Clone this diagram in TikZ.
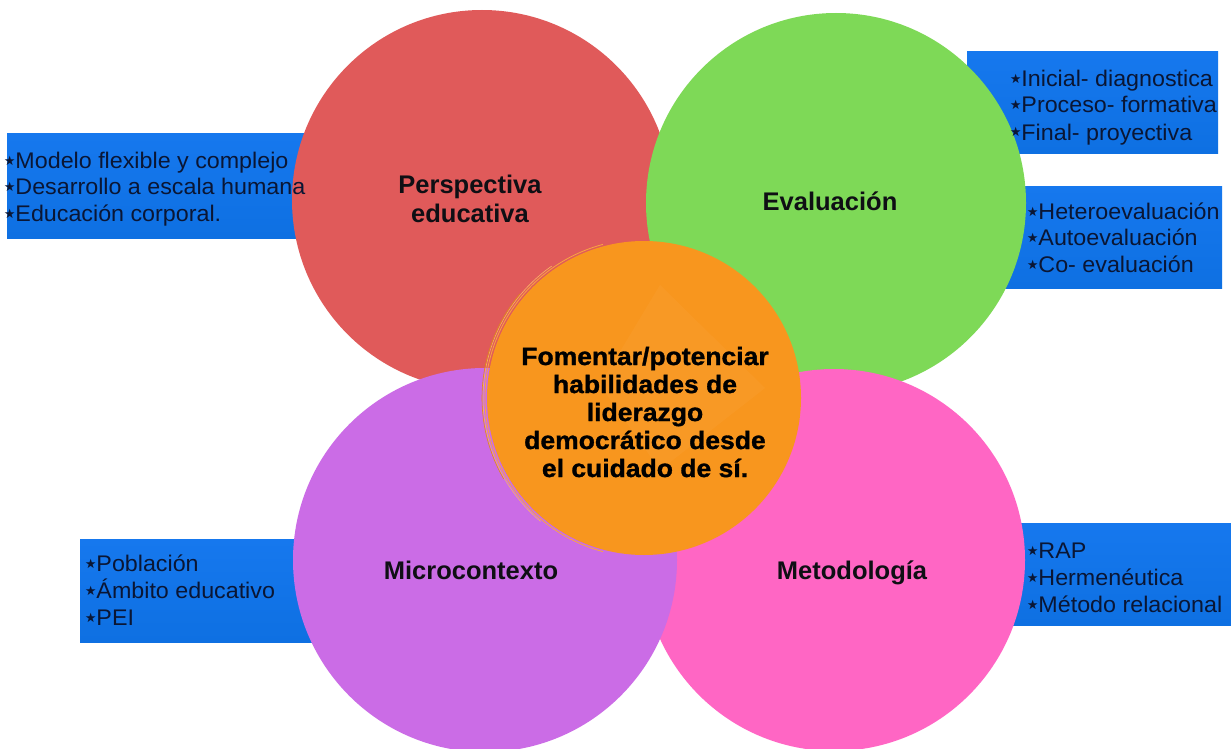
\documentclass[tikz,border=0pt]{standalone}
\usepackage{fontspec}
\usepackage{graphicx}
\setmainfont{Liberation Sans}
\newfontfamily\ctrfont{Liberation Sans}[FakeStretch=1.06, FakeBold=1.2]
\newfontfamily\listfont{Liberation Sans}[FakeStretch=1.03]
\newfontfamily\symfont{DejaVu Sans}
\definecolor{cred}{RGB}{224,90,90}
\definecolor{cgreen}{RGB}{126,217,87}
\definecolor{cpurple}{RGB}{203,108,230}
\definecolor{cpink}{RGB}{255,102,196}
\definecolor{corange}{RGB}{248,150,30}
\definecolor{boxtop}{RGB}{22,120,238}
\definecolor{boxbot}{RGB}{14,112,226}
\definecolor{itemtext}{RGB}{10,22,52}
\definecolor{titletext}{RGB}{15,15,20}
\newcommand\bul{\hspace{-2.5pt}\raisebox{-1pt}{\symfont\fontsize{26}{26}\selectfont ⋆}\hspace{-2.5pt}}
\begin{document}
\begin{tikzpicture}[x=1pt,y=-1pt,
  bluebox/.style={top color=boxtop, bottom color=boxbot, draw=none},
  disc/.style={circle, minimum size=#1, inner sep=0pt, draw=none},
  item/.style={anchor=base west, inner sep=0pt, text=itemtext, font=\listfont\fontsize{22.6}{26}\selectfont},
  ttl/.style={anchor=base, inner sep=0pt, text=titletext, font=\bfseries\fontsize{25.5}{28}\selectfont},
  ctr/.style={anchor=base, inner sep=0pt, text=black, font=\ctrfont\bfseries\fontsize{25}{28}\selectfont}]
\useasboundingbox (0,0) rectangle (1231,749);
\fill[white] (0,0) rectangle (1231,749);
% blue boxes
\fill[bluebox] (7,134) rectangle (320,238);
\fill[bluebox] (967,52) rectangle (1218,153);
\fill[bluebox] (990,186) rectangle (1222,288);
\fill[bluebox] (80,539) rectangle (330,642);
\fill[bluebox] (1000,523) rectangle (1231,625);
% circles
\node[disc=380pt, fill=cred] (red) at (482,200) {};
\node[disc=380pt, fill=cgreen] (green) at (836,203) {};
\node[disc=382pt, fill=cpink] (pink) at (834,560) {};
\node[disc=384pt, fill=cpurple] (purple) at (485,560) {};
\node[disc=314pt, fill=corange] (orange) at (644,398) {};
% brush strokes on the orange circle
\draw[corange!85!white, line width=0.8pt] (orange.center) ++(105:159) arc[start angle=105, end angle=255, radius=159];
\draw[corange!70!white, line width=0.6pt] (orange.center) ++(130:161) arc[start angle=130, end angle=235, radius=161];
\draw[corange!90!black, line width=0.6pt] (orange.center) ++(150:162) arc[start angle=150, end angle=220, radius=162];
\fill[white, opacity=0.035] (660,285) -- (765,388) -- (660,470) -- (600,385) -- cycle;
% titles
\node[ttl] (t1a) at (470,193) {Perspectiva};
\node[ttl] (t1b) at (470,222) {educativa};
\node[ttl] (t2) at (830,210) {Evaluación};
\node[ttl] (t3) at (471,579) {Microcontexto};
\node[ttl] (t4) at (852,579) {Metodología};
% center text
\node[ctr] (c1) at (645,365) {Fomentar/potenciar};
\node[ctr] (c2) at (645,393) {habilidades de};
\node[ctr] (c3) at (645,421) {liderazgo};
\node[ctr] (c4) at (645,449) {democrático desde};
\node[ctr] (c5) at (645,477) {el cuidado de sí.};
% lists
\node[item] (a1) at (4,168) {\bul Modelo flexible y complejo};
\node[item] (a2) at (4,194.5) {\bul Desarrollo a escala humana};
\node[item] (a3) at (4,221) {\bul Educación corporal.};
\node[item] (b1) at (1010,87) {\bul Inicial- diagnostica};
\node[item] (b2) at (1010,113) {\bul Proceso- formativa};
\node[item] (b3) at (1010,140) {\bul Final- proyectiva};
\node[item] (d1) at (1027,219) {\bul Heteroevaluación};
\node[item] (d2) at (1027,245.5) {\bul Autoevaluación};
\node[item] (d3) at (1027,272) {\bul Co- evaluación};
\node[item] (e1) at (85,571) {\bul Población};
\node[item] (e2) at (85,598) {\bul Ámbito educativo};
\node[item] (e3) at (85,625) {\bul PEI};
\node[item] (f1) at (1027,558) {\bul RAP};
\node[item] (f2) at (1027,585) {\bul Hermenéutica};
\node[item] (f3) at (1027,612) {\bul Método relacional};
\end{tikzpicture}
\end{document}
